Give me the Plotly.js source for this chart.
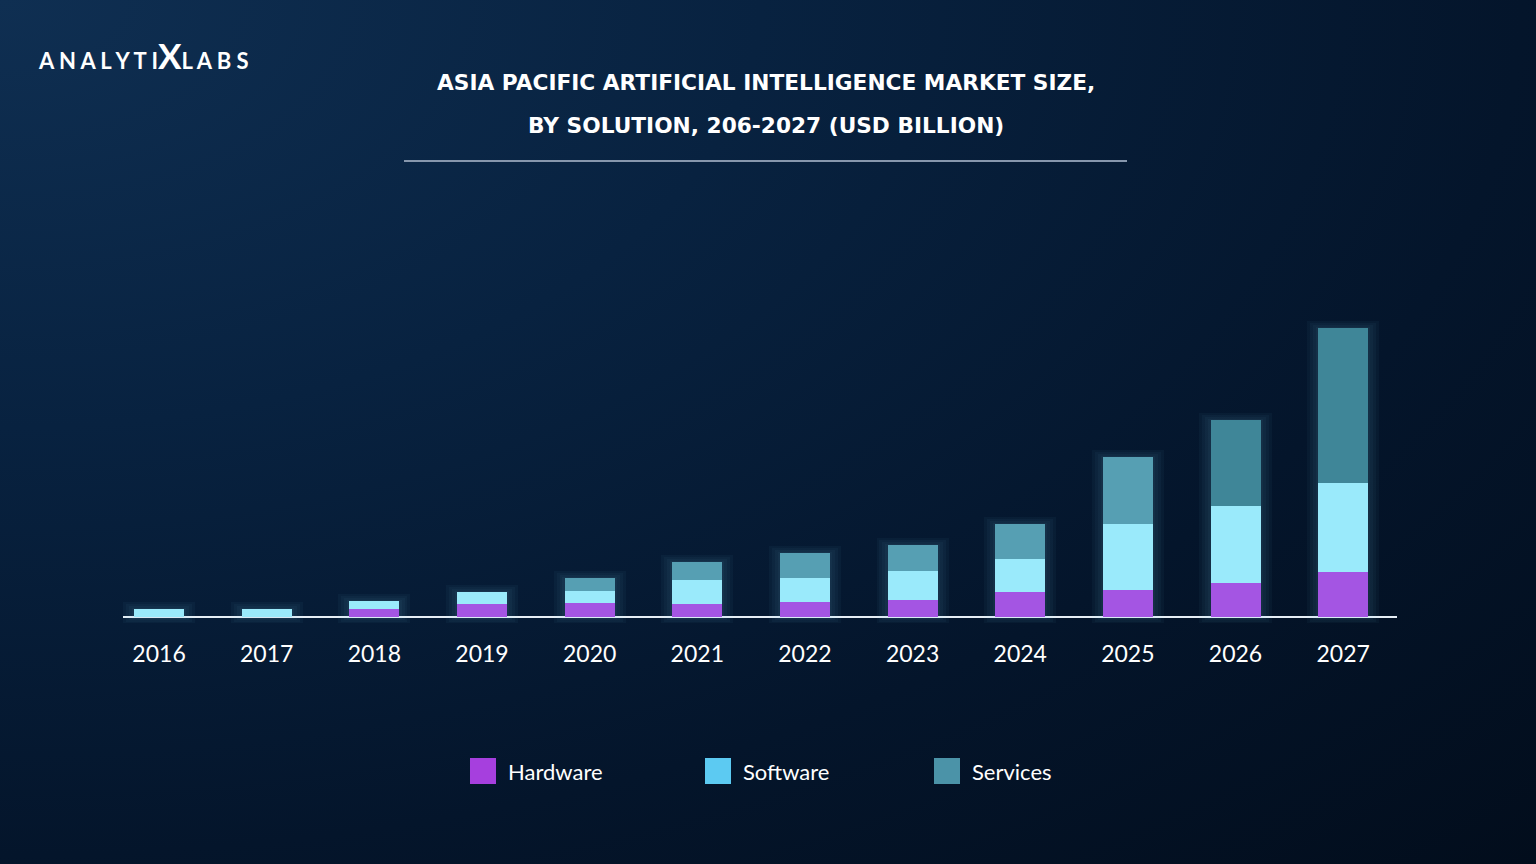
<!DOCTYPE html>
<html>
<head>
<meta charset="utf-8">
<script src="https://cdn.plot.ly/plotly-3.0.1.min.js"></script>
<style>
html, body { margin: 0; padding: 0; }
body {
	width: 1536px; height: 864px; overflow: hidden;
	background: radial-gradient(ellipse at 0% 0%, #0f2f52 0%, #082240 35%, #04152b 70%, #020d1c 100%);
}
#chart { width: 1536px; height: 864px; }
</style>
</head>
<body>
<div id="chart"></div>
<script>
const years = ["2016", "2017", "2018", "2019", "2020", "2021", "2022", "2023", "2024", "2025", "2026", "2027"];
const hardware = [0, 0, 0.8, 1.3, 1.4, 1.3, 1.5, 1.7, 2.5, 2.7, 3.4, 4.5];
const software = [0.8, 0.8, 0.8, 1.2, 1.2, 2.4, 2.4, 2.9, 3.3, 6.6, 7.7, 8.9];
const services = [0, 0, 0, 0, 1.3, 1.8, 2.5, 2.6, 3.5, 6.7, 8.6, 15.5];
const seriesNames = ["Hardware", "Software", "Services"];
const legendColors = ["#a63fde", "#5ccaf2", "#4b93a8"];
const servicesColors = ["#4e97aa", "#4e97aa", "#4e97aa", "#4e97aa", "#4e97aa", "#4e97aa", "#4e97aa", "#4e97aa", "#4e97aa", "#4e97aa", "#357a8b", "#357a8b"];

const W = 1536, H = 864;
const px = x => x / W;
const py = y => 1 - y / H;

const idx = years.map((_, i) => i);
const barWidth = 0.465;
const totals = idx.map(i => hardware[i] + software[i] + services[i]);

const mkBar = (name, y, color) => ({
	type: 'bar', x: idx, y, name, width: barWidth,
	marker: {color, line: {width: 0}},
	hoverinfo: 'skip', showlegend: false
});

// soft glow behind the bars, one overlay axis per layer
const glowAxes = ['x2', 'x3', 'x4', 'x5'];
const glow = glowAxes.map((ax, k) => ({
	type: 'bar', x: idx, xaxis: ax,
	y: totals.map(t => t + 0.3 + k * 0.35),
	base: idx.map(() => -0.15 - k * 0.15),
	width: barWidth + 0.04 + k * 0.055,
	marker: {color: 'rgba(150,225,245,0.035)', line: {width: 0}},
	hoverinfo: 'skip', showlegend: false
}));

const data = [
	...glow,
	mkBar("Hardware", hardware, "#a841df"),
	mkBar("Software", software, "#9eeefb"),
	mkBar("Services", services, servicesColors)
];

const xDomain = [px(123), px(1397)];
const xRange = [-0.335, 11.5];
const overlayAxis = {overlaying: 'x', range: xRange, domain: xDomain, visible: false, fixedrange: true};

const legendX = [470, 705, 934];
const shapes = [
	{type: 'line', xref: 'paper', yref: 'paper', x0: px(404), x1: px(1127), y0: py(161), y1: py(161),
		line: {color: '#8797ad', width: 2}}
];
const annotations = [
	{text: "ASIA PACIFIC ARTIFICIAL INTELLIGENCE MARKET SIZE,", x: px(766), y: py(83)},
	{text: "BY SOLUTION, 206-2027 (USD BILLION)", x: px(766), y: py(125)}
].map(a => ({...a, xref: 'paper', yref: 'paper', showarrow: false, xanchor: 'center', yanchor: 'middle',
	font: {family: '"DejaVu Sans", sans-serif', size: 21.7, color: '#ffffff', weight: 'bold'}}));

annotations.push({
	text: "A N A L Y T I<span style=\"font-size:35px\"><b>X</b></span>L A B S",
	xref: 'paper', yref: 'paper', x: px(36), y: py(55), xanchor: 'left', yanchor: 'middle', showarrow: false,
	font: {family: 'Lato, sans-serif', size: 22, color: '#ffffff', weight: 'bold'}
});

seriesNames.forEach((name, i) => {
	shapes.push({type: 'rect', xref: 'paper', yref: 'paper',
		x0: px(legendX[i]), x1: px(legendX[i] + 26), y0: py(784), y1: py(758),
		fillcolor: legendColors[i], line: {width: 0}});
	annotations.push({text: name, xref: 'paper', yref: 'paper', x: px(legendX[i] + 36), y: py(771),
		xanchor: 'left', yanchor: 'middle', showarrow: false,
		font: {family: 'Lato, sans-serif', size: 22, color: '#ffffff'}});
});

const layout = {
	width: W, height: H,
	margin: {l: 0, r: 0, t: 0, b: 0},
	paper_bgcolor: 'rgba(0,0,0,0)',
	plot_bgcolor: 'rgba(0,0,0,0)',
	barmode: 'stack',
	showlegend: false,
	xaxis: {
		domain: xDomain, range: xRange,
		anchor: 'free', position: py(617),
		tickmode: 'array', tickvals: idx, ticktext: years,
		ticks: '', showgrid: false, zeroline: false, showline: false,
		ticklabelstandoff: 21,
		tickfont: {family: 'Lato, sans-serif', size: 23, color: '#ffffff'},
		fixedrange: true
	},
	xaxis2: overlayAxis, xaxis3: overlayAxis, xaxis4: overlayAxis, xaxis5: overlayAxis,
	yaxis: {
		domain: [py(632), py(300)], range: [-1.5, 31.7],
		showgrid: false, showticklabels: false, ticks: '',
		zeroline: true, zerolinecolor: '#e6eef5', zerolinewidth: 2,
		fixedrange: true
	},
	shapes, annotations
};

Plotly.newPlot('chart', data, layout, {displayModeBar: false, staticPlot: true});
</script>
</body>
</html>
